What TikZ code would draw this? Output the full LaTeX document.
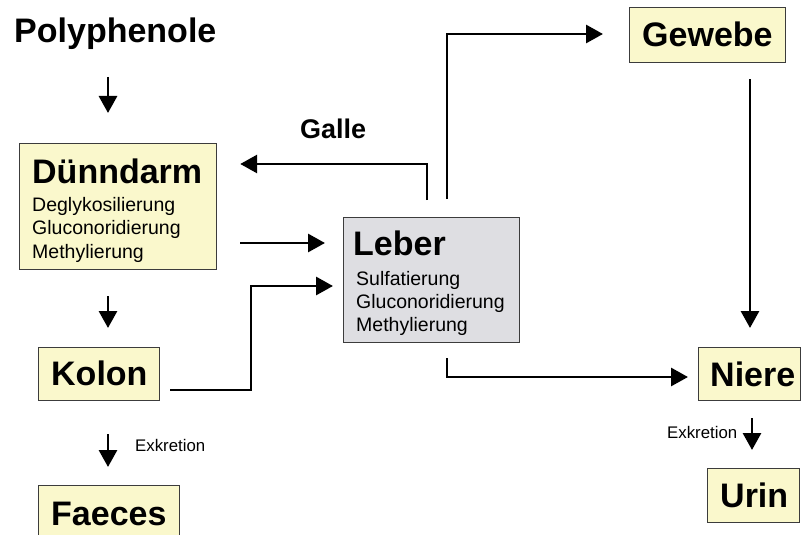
\documentclass[tikz,border=0pt]{standalone}
\usepackage{fontspec}
\setmainfont{Liberation Sans}
\usetikzlibrary{arrows.meta}
\definecolor{boxyellow}{RGB}{250,248,204}
\definecolor{boxgray}{RGB}{222,222,226}
\definecolor{boxline}{RGB}{60,60,60}
\begin{document}
\begin{tikzpicture}[x=1pt,y=-1pt,
  ybox/.style={draw=boxline, line width=1.2pt, fill=boxyellow, inner sep=0pt, anchor=north west},
  gbox/.style={ybox, fill=boxgray},
  bigtxt/.style={font=\fontsize{34}{40}\selectfont\bfseries, inner sep=0pt, anchor=base west},
  galletxt/.style={font=\fontsize{27}{32}\selectfont\bfseries, inner sep=0pt, anchor=base west},
  smalltxt/.style={font=\fontsize{19.5}{23}\selectfont, inner sep=0pt, anchor=base west},
  tinytxt/.style={font=\fontsize{16.8}{20}\selectfont, inner sep=0pt, anchor=base west},
  arr/.style={line width=2.9pt, -{Triangle[length=17pt,width=18pt]}, line join=miter},
]
\useasboundingbox (0,0) rectangle (801,535);
\fill[white] (0,0) rectangle (801,535);

% boxes
\node[ybox, minimum width=197pt, minimum height=126pt] (dd) at (19,143) {};
\node[gbox, minimum width=176pt, minimum height=125pt] (leber) at (343,217) {};
\node[ybox, minimum width=121pt, minimum height=53pt] (kolon) at (38,347) {};
\node[ybox, minimum width=141pt, minimum height=56pt] (faeces) at (38,485) {};
\node[ybox, minimum width=156pt, minimum height=55pt] (gewebe) at (629,7) {};
\node[ybox, minimum width=102pt, minimum height=53pt] (niere) at (698,347) {};
\node[ybox, minimum width=92pt, minimum height=54pt] (urin) at (707,468) {};

% texts
\node[bigtxt] (poly) at (14,43) {Polyphenole};
\node[bigtxt] (ddt) at (32,183) {Dünndarm};
\node[smalltxt] (dd1) at (32,211) {Deglykosilierung};
\node[smalltxt] (dd2) at (32,234) {Gluconoridierung};
\node[smalltxt] (dd3) at (32,258) {Methylierung};
\node[galletxt] (galle) at (300,138) {Galle};
\node[bigtxt] (lebert) at (353,255) {Leber};
\node[smalltxt] (lb1) at (356,285) {Sulfatierung};
\node[smalltxt] (lb2) at (356,308) {Gluconoridierung};
\node[smalltxt] (lb3) at (356,331) {Methylierung};
\node[bigtxt] (kolont) at (51,385) {Kolon};
\node[bigtxt] (faecest) at (51,525) {Faeces};
\node[bigtxt] (gewebet) at (642,47) {Gewebe};
\node[bigtxt] (nieret) at (710,386) {Niere};
\node[bigtxt] (urint) at (720,507) {Urin};
\node[tinytxt] (ex1) at (135,451) {Exkretion};
\node[tinytxt] (ex2) at (667,438) {Exkretion};

% helper coordinates
\coordinate (vx) at (108,0);
\coordinate (hy) at (0,243);
\coordinate (gx) at (427,0);
\coordinate (gy) at (0,164);
\coordinate (wx) at (447,0);
\coordinate (wy) at (0,34);
\coordinate (nx) at (750,0);
\coordinate (ly) at (0,377);
\coordinate (ky) at (0,390);
\coordinate (kb) at (251,286);
\coordinate (ky2) at (0,286);
\coordinate (ux) at (752,0);

% connectors
\draw[arr, shorten <=34pt, shorten >=30pt] (poly.base -| vx) -- (dd.north -| vx);
\draw[arr, shorten <=26pt, shorten >=19pt] (dd.south -| vx) -- (kolon.north -| vx);
\draw[arr, shorten <=33pt, shorten >=18pt] (kolon.south -| vx) -- (faeces.north -| vx);
\draw[arr, shorten <=23pt, shorten >=18pt] (dd.east |- hy) -- (leber.west |- hy);
\draw[arr, shorten <=17pt, shorten >=23pt] (leber.north -| gx) |- (dd.east |- gy);
\draw[arr, shorten <=18pt, shorten >=26pt] (leber.north -| wx) |- (gewebe.west |- wy);
\draw[arr, shorten <=16pt, shorten >=19pt] (gewebe.south -| nx) -- (niere.north -| nx);
\draw[arr, shorten <=15pt, shorten >=10pt] (leber.south -| wx) |- (niere.west |- ly);
\draw[arr, shorten <=10pt, shorten >=10pt] (kolon.east |- ky) -| (kb) -- (leber.west |- ky2);
\draw[arr, shorten <=17pt, shorten >=18pt] (niere.south -| ux) -- (urin.north -| ux);
\end{tikzpicture}
\end{document}
